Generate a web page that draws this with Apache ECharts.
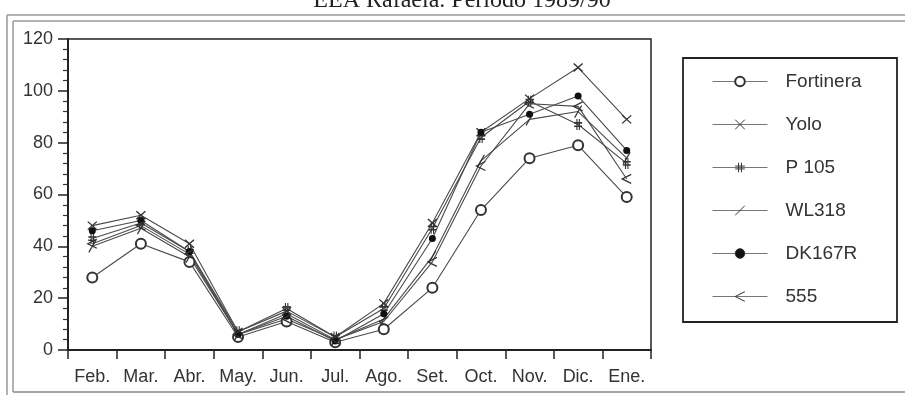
<!DOCTYPE html>
<html>
<head>
<meta charset="utf-8">
<script src="https://cdn.jsdelivr.net/npm/echarts@6/dist/echarts.min.js"></script>
<style>
html,body{margin:0;padding:0;background:#fff;}
#chart{width:905px;height:395px;}
</style>
</head>
<body>
<div id="chart"></div>
<script>
var titleText = 'EEA Rafaela. Período 1989/90';
var months = ['Feb.', 'Mar.', 'Abr.', 'May.', 'Jun.', 'Jul.', 'Ago.', 'Set.', 'Oct.', 'Nov.', 'Dic.', 'Ene.'];
var seriesNames = ['Fortinera', 'Yolo', 'P 105', 'WL318', 'DK167R', '555'];
var fortinera = [28, 41, 34, 5, 11, 3, 8, 24, 54, 74, 79, 59];
var yolo = [48, 52, 41, 7, 15, 5, 18, 49, 84, 97, 109, 89];
var p105 = [43, 49, 38, 7, 16, 5, 16, 47, 82, 96, 87, 72];
var wl318 = [40, 47, 36, 6, 14, 4, 12, 36, 73, 89, 92, 74];
var dk167r = [46, 50, 38, 6, 13, 3.5, 14, 43, 84, 91, 98, 77];
var s555 = [41, 48, 37, 6, 12, 4, 11, 34, 71, 95, 94, 66];
var yTicks = {min: 0, max: 120, interval: 20};

var seriesData = [fortinera, yolo, p105, wl318, dk167r, s555];
var symbols = [
  'emptyCircle',
  'path://M0,0L10,10M10,0L0,10',
  'path://M3.5,0L3.5,10M6.5,0L6.5,10M0,3.5L10,3.5M0,6.5L10,6.5',
  'path://M2,10L8,0',
  'circle',
  'path://M10,0L0,5L10,10'
];
var symbolSizes = [10, [9, 8], [8, 11], [7, 12], 7, [9, 9]];
var fills = ['#333', 'rgba(0,0,0,0)', 'rgba(0,0,0,0)', 'rgba(0,0,0,0)', '#111', 'rgba(0,0,0,0)'];

var chart = echarts.init(document.getElementById('chart'), null, {renderer: 'canvas'});

var series = seriesNames.map(function (name, i) {
  return {
    name: name,
    type: 'line',
    data: seriesData[i],
    symbol: symbols[i],
    symbolSize: symbolSizes[i],
    showAllSymbol: true,
    animation: false,
    lineStyle: {color: '#4a4a4a', width: 1.1},
    itemStyle: {color: fills[i], borderColor: '#333', borderWidth: i === 0 ? 1.2 : (i === 4 ? 0 : 1.3)},
    emphasis: {disabled: true}
  };
});

var option = {
  animation: false,
  backgroundColor: '#fff',
  textStyle: {fontFamily: 'Liberation Sans'},
  grid: {left: 68, right: 254, top: 39, bottom: 45, show: true, borderColor: '#222', borderWidth: 1.5, backgroundColor: 'transparent'},
  legend: {
    orient: 'vertical',
    left: 712,
    top: 72,
    padding: 0,
    itemWidth: 55,
    itemHeight: 12,
    itemGap: 24,
    selectedMode: false,
    lineStyle: {color: '#777', width: 1},
    itemStyle: {borderWidth: 1},
    textStyle: {fontSize: 19, color: '#333', fontFamily: 'Liberation Sans', padding: [0, 0, 0, 13]},
    data: seriesNames
  },
  xAxis: {
    type: 'category',
    data: months,
    boundaryGap: true,
    axisLine: {lineStyle: {color: '#222', width: 2}},
    axisTick: {show: true, length: 9, lineStyle: {color: '#222', width: 1.5}},
    axisLabel: {fontSize: 18, color: '#333', margin: 18, interval: 0}
  },
  yAxis: {
    type: 'value',
    min: yTicks.min,
    max: yTicks.max,
    interval: yTicks.interval,
    axisLine: {show: true, lineStyle: {color: '#222', width: 2}},
    axisTick: {show: true, length: 10, lineStyle: {color: '#222', width: 1.5}},
    minorTick: {show: true, splitNumber: 5, length: 5, lineStyle: {color: '#333', width: 1.2}},
    splitLine: {show: false},
    axisLabel: {fontSize: 18, color: '#333', margin: 15}
  },
  graphic: [
    {type: 'text', x: 462, y: 1, style: {text: titleText, font: '24px "Liberation Serif"', fill: '#222', textAlign: 'center', textVerticalAlign: 'middle'}},
    {type: 'line', shape: {x1: 7, y1: 15, x2: 905, y2: 15}, style: {stroke: '#999', lineWidth: 1.5}},
    {type: 'line', shape: {x1: 13, y1: 21, x2: 905, y2: 21}, style: {stroke: '#999', lineWidth: 1.5}},
    {type: 'line', shape: {x1: 7, y1: 15, x2: 7, y2: 395}, style: {stroke: '#999', lineWidth: 1.5}},
    {type: 'line', shape: {x1: 13, y1: 21, x2: 13, y2: 392}, style: {stroke: '#999', lineWidth: 1.5}},
    {type: 'line', shape: {x1: 13, y1: 392, x2: 905, y2: 392}, style: {stroke: '#888', lineWidth: 1.5}},
    {type: 'rect', shape: {x: 683, y: 58, width: 214, height: 264}, style: {fill: 'transparent', stroke: '#222', lineWidth: 1.8}}
  ],
  series: series
};
chart.setOption(option);
</script>
</body>
</html>
